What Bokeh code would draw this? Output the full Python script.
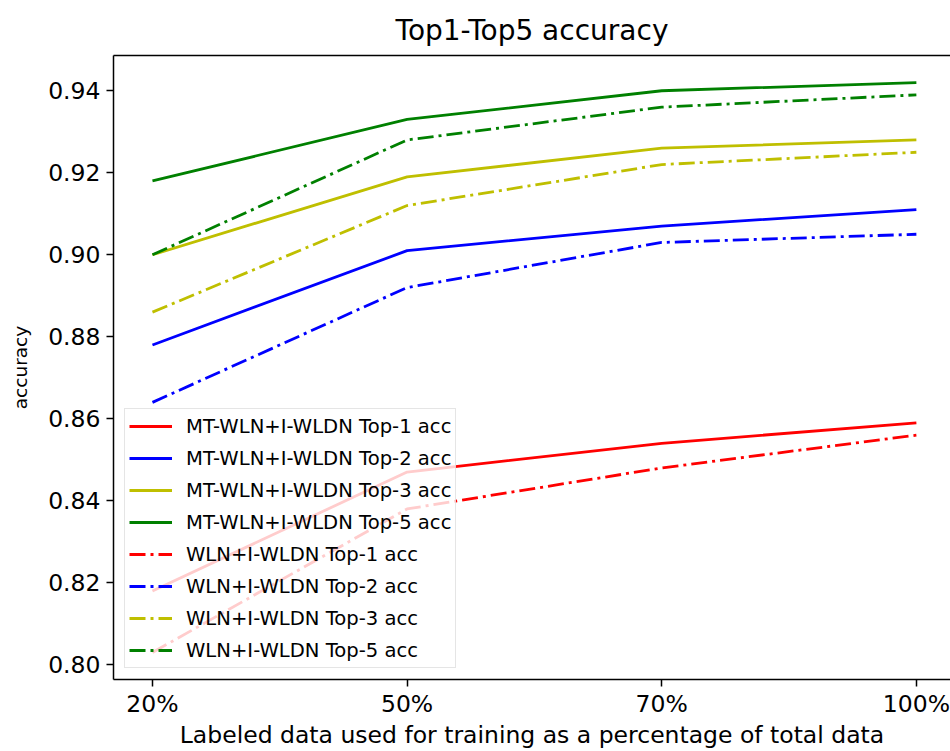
from bokeh.plotting import figure
from bokeh.models import Range1d, FixedTicker, LinearAxis, Legend, LegendItem, PrintfTickFormatter
from bokeh.embed import file_html
from bokeh.resources import INLINE

x_labels = ["20%", "50%", "70%", "100%"]
mt_top1 = [0.818, 0.847, 0.854, 0.859]
mt_top2 = [0.878, 0.901, 0.907, 0.911]
mt_top3 = [0.900, 0.919, 0.926, 0.928]
mt_top5 = [0.918, 0.933, 0.940, 0.942]
wln_top1 = [0.803, 0.838, 0.848, 0.856]
wln_top2 = [0.864, 0.892, 0.903, 0.905]
wln_top3 = [0.886, 0.912, 0.922, 0.925]
wln_top5 = [0.900, 0.928, 0.936, 0.939]
y_ticks = [0.80, 0.82, 0.84, 0.86, 0.88, 0.90, 0.92, 0.94]

series = [
    ("MT-WLN+I-WLDN Top-1 acc", mt_top1, "#ff0000", "solid"),
    ("MT-WLN+I-WLDN Top-2 acc", mt_top2, "#0000ff", "solid"),
    ("MT-WLN+I-WLDN Top-3 acc", mt_top3, "#bfbf00", "solid"),
    ("MT-WLN+I-WLDN Top-5 acc", mt_top5, "#008000", "solid"),
    ("WLN+I-WLDN Top-1 acc", wln_top1, "#ff0000", "16 5 3 5"),
    ("WLN+I-WLDN Top-2 acc", wln_top2, "#0000ff", "16 5 3 5"),
    ("WLN+I-WLDN Top-3 acc", wln_top3, "#bfbf00", "16 5 3 5"),
    ("WLN+I-WLDN Top-5 acc", wln_top5, "#008000", "16 5 3 5"),
]

FONT = "DejaVu Sans"
xs = list(range(len(x_labels)))

p = figure(width=950, height=751, output_backend="svg", toolbar_location=None,
           x_range=Range1d(-0.153, 3.134), y_range=Range1d(0.7964, 0.9486),
           min_border_left=113, min_border_right=0, min_border_top=55, min_border_bottom=72,
           background_fill_color="white", border_fill_color="white")
p.outline_line_color = None
p.xgrid.visible = False
p.ygrid.visible = False

p.title.text = "Top1-Top5 accuracy"
p.title.align = "center"
p.title.text_font = FONT
p.title.text_font_size = "28px"
p.title.text_font_style = "normal"
p.title.text_color = "#000000"
p.title.standoff = 17

for ax in (p.xaxis[0], p.yaxis[0]):
    ax.axis_line_color = "#000000"
    ax.axis_line_width = 1.5
    ax.major_tick_line_color = "#000000"
    ax.major_tick_line_width = 1.5
    ax.major_tick_out = 7
    ax.major_tick_in = 0
    ax.minor_tick_line_color = None
    ax.major_label_text_font = FONT
    ax.major_label_text_font_size = "23.5px"
    ax.major_label_text_color = "#000000"
    ax.axis_label_text_font = FONT
    ax.axis_label_text_font_style = "normal"
    ax.axis_label_text_color = "#000000"

p.xaxis[0].ticker = FixedTicker(ticks=xs)
p.xaxis[0].major_label_overrides = {i: lab for i, lab in enumerate(x_labels)}
p.xaxis[0].major_label_standoff = 3
p.xaxis[0].axis_label = "Labeled data used for training as a percentage of total data"
p.xaxis[0].axis_label_text_font_size = "23.5px"
p.xaxis[0].axis_label_standoff = 0

p.yaxis[0].ticker = FixedTicker(ticks=y_ticks)
p.yaxis[0].formatter = PrintfTickFormatter(format="%.2f")
p.yaxis[0].major_label_standoff = 6
p.yaxis[0].axis_label = "accuracy"
p.yaxis[0].axis_label_text_font_size = "18.5px"
p.yaxis[0].axis_label_standoff = 14

top = LinearAxis(ticker=FixedTicker(ticks=[]), axis_line_color="#000000", axis_line_width=1.5,
                 major_tick_out=0, major_tick_in=0, minor_tick_out=0, minor_tick_in=0,
                 major_label_text_font_size="0px")
p.add_layout(top, "above")

items = []
for name, vals, color, dash in series:
    r = p.line(xs, vals, line_color=color, line_width=2.8, line_dash=dash)
    items.append(LegendItem(label=name, renderers=[r]))

legend = Legend(items=items, location=(11, 11))
legend.label_text_font = FONT
legend.label_text_font_size = "19.6px"
legend.label_text_color = "#000000"
legend.glyph_width = 43
legend.glyph_height = 26
legend.label_height = 26
legend.spacing = 6
legend.padding = 4
legend.margin = 0
legend.label_standoff = 14
legend.border_line_color = "#cccccc"
legend.border_line_width = 1
legend.background_fill_color = "white"
legend.background_fill_alpha = 0.8
p.add_layout(legend)

open("out.html", "w").write(file_html(p, INLINE))
